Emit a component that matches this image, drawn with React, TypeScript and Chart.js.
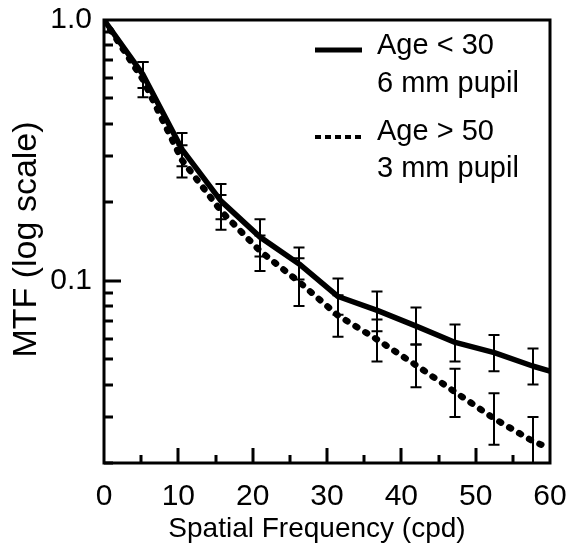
import { useEffect, useRef } from "react";
import { Chart, registerables } from "chart.js";

Chart.register(...registerables);

const FONT = "'Liberation Sans', Arial, Helvetica, sans-serif";

// Spatial frequency (cpd) at each vertex of the two MTF curves
const frequency = [0, 5.25, 10.5, 15.75, 21, 26.25, 31.5, 36.75, 42, 47.25, 52.5, 57.75, 60];
// Mean MTF, age < 30, 6 mm pupil
const youngMtf = [1.0, 0.617, 0.319, 0.202, 0.147, 0.116, 0.087, 0.077, 0.067, 0.058, 0.053, 0.047, 0.045];
// Mean MTF, age > 50, 3 mm pupil
const olderMtf = [1.0, 0.59, 0.29, 0.185, 0.13, 0.099, 0.0735, 0.0595, 0.0474, 0.0374, 0.0296, 0.0242, 0.0228];

// Frequencies carrying error bars
const errorFrequency = [5.25, 10.5, 15.75, 21, 26.25, 31.5, 36.75, 42, 47.25, 52.5, 57.75];
const youngLow = [0.548, 0.275, 0.172, 0.124, 0.101, 0.074, 0.064, 0.057, 0.049, 0.045, 0.04];
const youngHigh = [0.69, 0.369, 0.235, 0.172, 0.134, 0.102, 0.091, 0.079, 0.068, 0.062, 0.055];
const olderLow = [0.505, 0.249, 0.157, 0.109, 0.08, 0.061, 0.049, 0.039, 0.03, 0.0235, 0.0193];
const olderHigh = [0.69, 0.331, 0.213, 0.149, 0.122, 0.088, 0.071, 0.057, 0.046, 0.037, 0.03];

// Axis ticks
const xLabelTicks = [0, 10, 20, 30, 40, 50, 60];
const xMinorTicks = [5, 15, 25, 35, 45, 55];
const yLabelTicks = [0.1, 1];
const yMinorTicks = [0.02, 0.03, 0.04, 0.05, 0.06, 0.07, 0.08, 0.09, 0.2, 0.3, 0.4, 0.5, 0.6, 0.7, 0.8, 0.9];

const xTitle = "Spatial Frequency (cpd)";
const yTitle = "MTF (log scale)";
const legendItems = [
  { lines: ["Age < 30", "6 mm pupil"], dotted: false },
  { lines: ["Age > 50", "3 mm pupil"], dotted: true },
];

const errorBarPlugin = {
  id: "errorBars",
  afterDatasetsDraw(chart: any) {
    const { ctx, chartArea, scales } = chart;
    const x = scales.x;
    const y = scales.y;
    ctx.save();
    ctx.beginPath();
    ctx.rect(chartArea.left, chartArea.top, chartArea.right - chartArea.left, chartArea.bottom - chartArea.top);
    ctx.clip();
    ctx.strokeStyle = "#000";
    ctx.lineWidth = 2;
    const series = [
      [youngLow, youngHigh],
      [olderLow, olderHigh],
    ];
    for (const [low, high] of series) {
      errorFrequency.forEach((f, i) => {
        const px = Math.round(x.getPixelForValue(f));
        const y1 = y.getPixelForValue(low[i]);
        const y2 = y.getPixelForValue(high[i]);
        ctx.beginPath();
        ctx.moveTo(px, y1);
        ctx.lineTo(px, y2);
        ctx.moveTo(px - 5.5, y1);
        ctx.lineTo(px + 5.5, y1);
        ctx.moveTo(px - 5.5, y2);
        ctx.lineTo(px + 5.5, y2);
        ctx.stroke();
      });
    }
    ctx.restore();
  },
};

const framePlugin = {
  id: "frameAndTicks",
  afterDraw(chart: any) {
    const { ctx, chartArea, scales } = chart;
    const { left, right, top, bottom } = chartArea;
    const x = scales.x;
    const y = scales.y;
    ctx.save();
    ctx.strokeStyle = "#000";
    ctx.lineCap = "butt";
    ctx.lineWidth = 3;
    // inward ticks on the x axis
    ctx.beginPath();
    for (const v of xLabelTicks) {
      if (v === 0 || v === 60) continue;
      const px = Math.round(x.getPixelForValue(v));
      ctx.moveTo(px, bottom);
      ctx.lineTo(px, bottom - 15);
    }
    for (const v of xMinorTicks) {
      const px = Math.round(x.getPixelForValue(v));
      ctx.moveTo(px, bottom);
      ctx.lineTo(px, bottom - 8);
    }
    // inward ticks on the y axis
    for (const v of yMinorTicks) {
      const py = Math.round(y.getPixelForValue(v));
      ctx.moveTo(left, py);
      ctx.lineTo(left + 9, py);
    }
    const p01 = Math.round(y.getPixelForValue(0.1));
    ctx.moveTo(left, p01);
    ctx.lineTo(left + 17, p01);
    ctx.stroke();
    // frame
    ctx.lineWidth = 3;
    ctx.strokeRect(left, top, right - left, bottom - top);

    // axis titles
    ctx.fillStyle = "#000";
    ctx.font = `28px ${FONT}`;
    ctx.textAlign = "center";
    ctx.textBaseline = "alphabetic";
    ctx.fillText(xTitle, (left + right) / 2 - 10, bottom + 74);
    ctx.font = `34px ${FONT}`;
    ctx.save();
    ctx.translate(36, (top + bottom) / 2 - 2);
    ctx.rotate(-Math.PI / 2);
    ctx.fillText(yTitle, 0, 0);
    ctx.restore();

    // legend
    ctx.font = `29px ${FONT}`;
    ctx.textAlign = "left";
    const sampleX1 = right - 235;
    const sampleX2 = right - 188;
    const textX = right - 173;
    const rows = [
      { sampleY: top + 30, base: [top + 34, top + 72] },
      { sampleY: top + 117, base: [top + 120, top + 157] },
    ];
    legendItems.forEach((item, i) => {
      const r = rows[i];
      ctx.beginPath();
      if (item.dotted) {
        ctx.lineWidth = 4;
        ctx.setLineDash([6, 4]);
      } else {
        ctx.lineWidth = 5;
        ctx.setLineDash([]);
      }
      ctx.moveTo(sampleX1, r.sampleY);
      ctx.lineTo(sampleX2, r.sampleY);
      ctx.stroke();
      ctx.setLineDash([]);
      item.lines.forEach((t, k) => ctx.fillText(t, textX, r.base[k]));
    });
    ctx.restore();
  },
};

const noScalePadding = (scale: any) => {
  scale.paddingLeft = 0;
  scale.paddingRight = 0;
  scale.paddingTop = 0;
  scale.paddingBottom = 0;
};

export default function App() {
  const canvasRef = useRef<HTMLCanvasElement | null>(null);

  useEffect(() => {
    const canvas = canvasRef.current;
    if (!canvas) return;
    const toPoints = (ys: number[]) => frequency.map((f, i) => ({ x: f, y: ys[i] }));
    const chart = new Chart(canvas, {
      type: "line",
      data: {
        datasets: [
          {
            label: "Age < 30, 6 mm pupil",
            data: toPoints(youngMtf),
            borderColor: "#000",
            borderWidth: 5.5,
            pointRadius: 0,
            tension: 0,
            borderJoinStyle: "round",
          },
          {
            label: "Age > 50, 3 mm pupil",
            data: toPoints(olderMtf),
            borderColor: "#000",
            borderWidth: 6.5,
            borderDash: [2, 9.5],
            borderCapStyle: "round",
            pointRadius: 0,
            tension: 0,
          },
        ],
      },
      options: {
        responsive: false,
        animation: false,
        devicePixelRatio: 1,
        layout: { padding: { left: 0, right: 20, top: 20, bottom: 0 } },
        plugins: { legend: { display: false }, tooltip: { enabled: false } },
        scales: {
          x: {
            type: "linear",
            min: 0,
            max: 60,
            grid: { display: false, drawTicks: false },
            border: { display: false },
            afterBuildTicks: (scale: any) => {
              scale.ticks = xLabelTicks.map((v) => ({ value: v }));
            },
            afterFit: (scale: any) => {
              scale.height = 81;
              noScalePadding(scale);
            },
            ticks: {
              padding: 16,
              autoSkip: false,
              maxRotation: 0,
              color: "#000",
              font: { family: FONT, size: 30 },
              callback: (v: any) => String(v),
            },
          },
          y: {
            type: "logarithmic",
            min: 0.02,
            max: 1,
            grid: { display: false, drawTicks: false },
            border: { display: false },
            afterBuildTicks: (scale: any) => {
              scale.ticks = yLabelTicks.map((v) => ({ value: v }));
            },
            afterFit: (scale: any) => {
              scale.width = 104;
              noScalePadding(scale);
            },
            ticks: {
              padding: 12,
              autoSkip: false,
              color: "#000",
              font: { family: FONT, size: 30 },
              callback: (v: any) => (Number(v) === 1 ? "1.0" : "0.1"),
            },
          },
        },
      },
      plugins: [errorBarPlugin, framePlugin],
    } as any);
    return () => chart.destroy();
  }, []);

  return (
    <div style={{ position: "absolute", left: 0, top: 0, width: 570, height: 544, background: "#fff" }}>
      <canvas ref={canvasRef} width={570} height={544} />
    </div>
  );
}
